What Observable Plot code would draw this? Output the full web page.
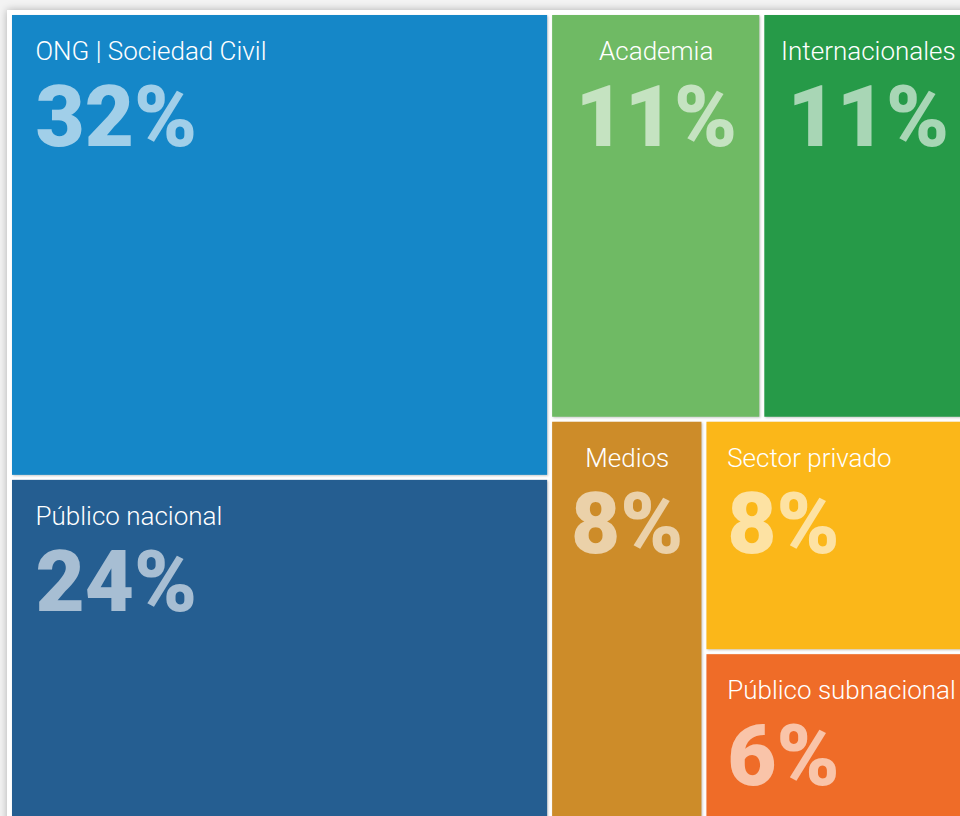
<!DOCTYPE html>
<html>
<head>
<meta charset="utf-8">
<script src="https://cdn.jsdelivr.net/npm/d3@7"></script>
<script src="https://cdn.jsdelivr.net/npm/@observablehq/plot@0.6"></script>
<style>
  html, body { margin: 0; padding: 0; width: 960px; height: 816px; overflow: hidden; background: #f3f3f3; }
  #frame { position: absolute; left: 7px; top: 10px; width: 990px; height: 860px; background: #fff;
           box-shadow: 0 0 8px rgba(0,0,0,0.28); }
  #chart { position: absolute; left: 0; top: 0; }
  #chart svg g[aria-label="rect"] rect { filter: drop-shadow(1px 1px 1.2px rgba(0,0,0,0.22)); }
</style>
</head>
<body>
<div id="frame"></div>
<div id="chart"></div>
<script>
// ---- data ----
const categories = ["ONG | Sociedad Civil", "Público nacional", "Academia", "Internacionales", "Medios", "Sector privado", "Público subnacional"];
const shares = [32, 24, 11, 11, 8, 8, 6];
const colors = ["#1587c8", "#255e91", "#6fba64", "#269a48", "#cd8c29", "#fbb719", "#ef6c28"];

// ---- layout (treemap computed by d3, drawn by Plot) ----
const W = 964.5, H = 813.5, X0 = 9.5, Y0 = 12.5;
const root = d3.hierarchy({children: categories.map((name, i) => ({name, value: shares[i]}))})
  .sum(d => d.value || 0);
d3.treemap().tile(d3.treemapBinary).size([W, H]).round(false)(root);

const cells = root.leaves().map(n => {
  const w = n.x1 - n.x0;
  const centered = w < 240;
  const pad = Math.min(23, 0.075 * w);
  return {
    name: n.data.name,
    value: n.data.value,
    label: n.data.value + "%",
    x0: n.x0, x1: n.x1, y0: n.y0, y1: n.y1,
    tx: centered ? (n.x0 + n.x1) / 2 : n.x0 + 2.5 + pad,
    anchor: centered ? "middle" : "start"
  };
});
const leftCells = cells.filter(d => d.anchor === "start");
const midCells = cells.filter(d => d.anchor === "middle");

const textMarks = (data, anchor) => [
  Plot.text(data, {x: "tx", y: "y0", text: "name", textAnchor: anchor, lineAnchor: "bottom",
    dy: 47, fill: "white", fontSize: 26, fontWeight: 300, fontFamily: "'Roboto Light', Roboto, sans-serif"}),
  Plot.text(data, {x: "tx", y: "y0", text: "label", textAnchor: anchor, lineAnchor: "bottom",
    dy: 133, fill: "white", fillOpacity: 0.6, fontSize: 85, fontWeight: 900, fontFamily: "Roboto"})
];

const chart = Plot.plot({
  width: 960,
  height: 816,
  margin: 0,
  style: {background: "transparent", fontFamily: "Roboto"},
  x: {domain: [0, W], range: [X0, X0 + W], axis: null},
  y: {domain: [0, H], range: [Y0, Y0 + H], axis: null},
  color: {domain: categories, range: colors},
  marks: [
    Plot.rect(cells, {x1: "x0", x2: "x1", y1: "y0", y2: "y1", fill: "name", inset: 2.5}),
    ...textMarks(leftCells, "start"),
    ...textMarks(midCells, "middle")
  ]
});
document.getElementById("chart").appendChild(chart);
</script>
</body>
</html>
